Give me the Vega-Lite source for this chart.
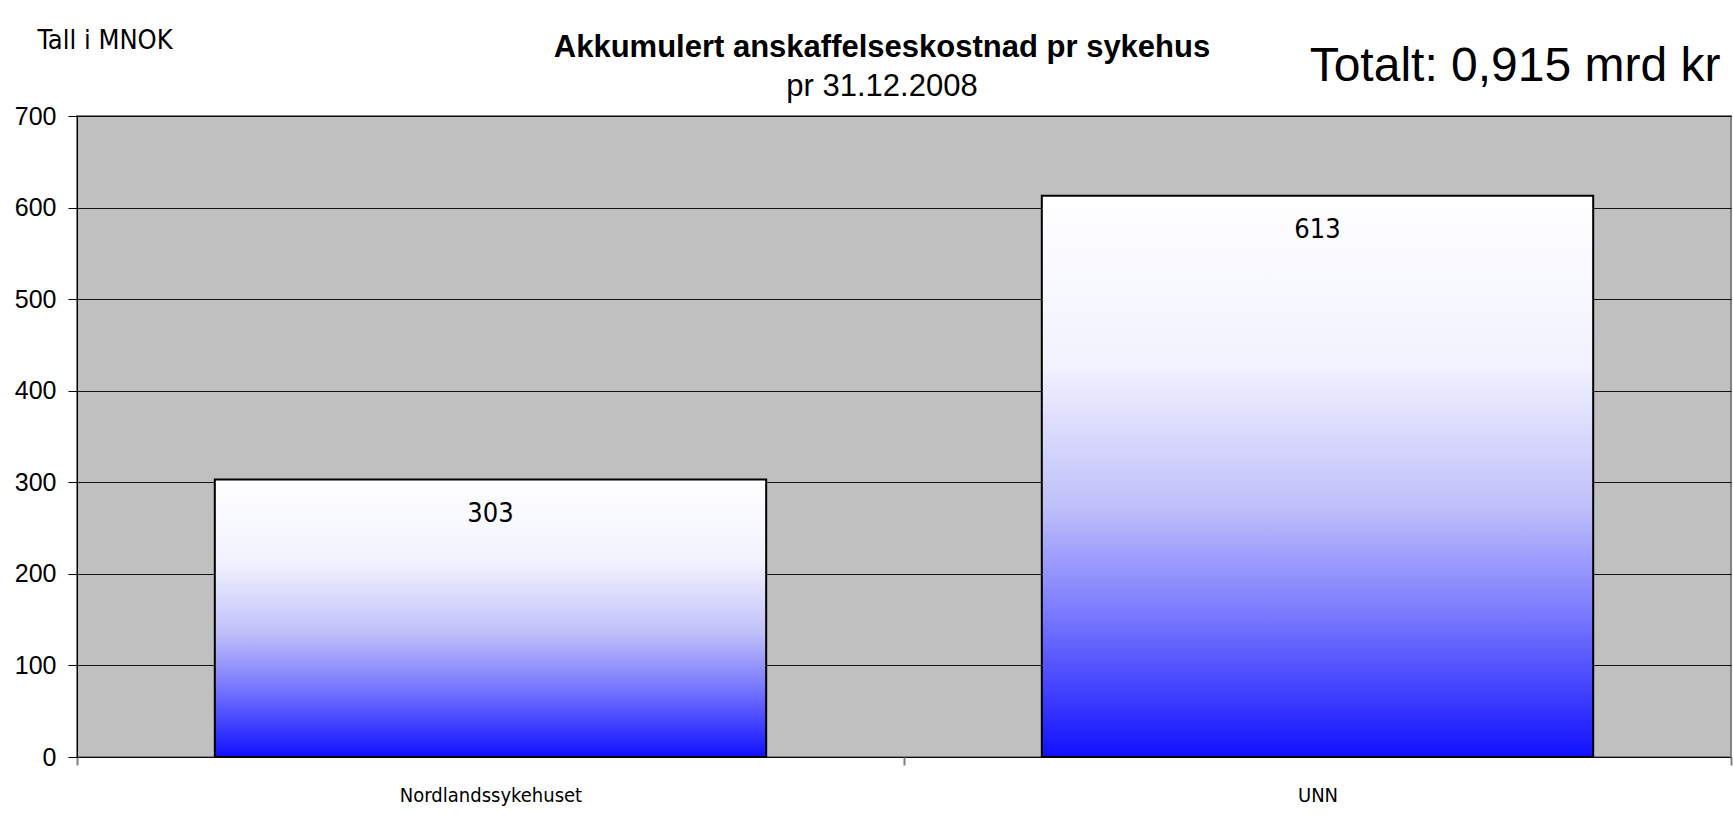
{
  "$schema": "https://vega.github.io/schema/vega-lite/v6.json",
  "width": 1654,
  "height": 641,
  "autosize": {"type": "none"},
  "padding": {"left": 77, "top": 116, "right": 2, "bottom": 62},
  "background": "white",
  "title": {
    "text": "Akkumulert anskaffelseskostnad pr sykehus",
    "subtitle": "pr 31.12.2008",
    "anchor": "middle",
    "frame": "group",
    "dx": -22,
    "offset": -77,
    "font": "Liberation Sans, Arial, sans-serif",
    "fontSize": 31,
    "fontWeight": "bold",
    "color": "black",
    "subtitleFont": "Liberation Sans, Arial, sans-serif",
    "subtitleFontSize": 31,
    "subtitleColor": "black",
    "subtitlePadding": 8
  },
  "config": {
    "view": {"fill": "#C0C0C0", "stroke": "#808080", "strokeWidth": 2},
    "axis": {"titleColor": "black", "labelColor": "black", "titleFontWeight": "normal"}
  },
  "data": {
    "values": [
      {"sykehus": "Nordlandssykehuset", "verdi": 303},
      {"sykehus": "UNN", "verdi": 613}
    ]
  },
  "encoding": {
    "x": {
      "field": "sykehus",
      "type": "nominal",
      "sort": null,
      "scale": {"paddingInner": 0, "paddingOuter": 0}
    },
    "y": {
      "field": "verdi",
      "type": "quantitative",
      "scale": {"domain": [0, 700], "nice": false},
      "axis": {
        "values": [0, 100, 200, 300, 400, 500, 600, 700],
        "grid": true,
        "gridColor": "#000000",
        "gridWidth": 1,
        "gridOpacity": 0.9,
        "domain": true,
        "domainColor": "#000000",
        "domainWidth": 1,
        "ticks": true,
        "tickColor": "#000000",
        "tickSize": 9,
        "tickWidth": 1,
        "labelFont": "Liberation Sans, Arial, sans-serif",
        "labelFontSize": 25,
        "labelPadding": 12,
        "labelBaseline": "middle",
        "title": "Tall i MNOK",
        "titleAngle": 0,
        "titleX": -40,
        "titleY": -68,
        "titleAlign": "left",
        "titleBaseline": "alphabetic",
        "titleFont": "Liberation Sans Narrow, Arial Narrow, DejaVu Sans Condensed, sans-serif",
        "titleFontSize": 27
      }
    }
  },
  "layer": [
    {
      "mark": {
        "type": "bar",
        "stroke": "black",
        "strokeWidth": 2,
        "width": {"band": 0.6667},
        "fill": {
          "gradient": "linear",
          "x1": 0, "y1": 0, "x2": 0, "y2": 1,
          "stops": [
            {"offset": 0, "color": "#ffffff"},
            {"offset": 0.3, "color": "#f2f2ff"},
            {"offset": 0.55, "color": "#c0c0fa"},
            {"offset": 0.75, "color": "#7878ff"},
            {"offset": 1, "color": "#1010ff"}
          ]
        }
      },
      "encoding": {
        "x": {
          "field": "sykehus",
          "type": "nominal",
          "sort": null,
          "axis": {
            "orient": "bottom",
            "title": null,
            "labelAngle": 0,
            "labelLimit": 0,
            "domain": false,
            "grid": false,
            "tickBand": "extent",
            "ticks": true,
            "tickColor": "#808080",
            "tickWidth": 2,
            "tickSize": 8,
            "labelFont": "Liberation Sans Narrow, Arial Narrow, DejaVu Sans Condensed, sans-serif",
            "labelFontSize": 20,
            "labelPadding": 20
          }
        }
      }
    },
    {
      "mark": {
        "type": "text",
        "baseline": "alphabetic",
        "align": "center",
        "dy": 42,
        "font": "Liberation Sans Narrow, Arial Narrow, DejaVu Sans Condensed, sans-serif",
        "fontSize": 27,
        "color": "black"
      },
      "encoding": {
        "x": {
          "field": "sykehus",
          "type": "nominal",
          "sort": null,
          "axis": {
            "orient": "top",
            "labels": false,
            "ticks": false,
            "domain": false,
            "grid": false,
            "title": "Totalt: 0,915 mrd kr",
            "titleX": 1643,
            "titleY": -36,
            "titleAlign": "right",
            "titleAnchor": "end",
            "titleBaseline": "alphabetic",
            "titleFont": "Liberation Sans, Arial, sans-serif",
            "titleFontSize": 48
          }
        },
        "text": {"field": "verdi", "type": "quantitative"}
      }
    }
  ],
  "resolve": {"axis": {"x": "independent"}}
}
